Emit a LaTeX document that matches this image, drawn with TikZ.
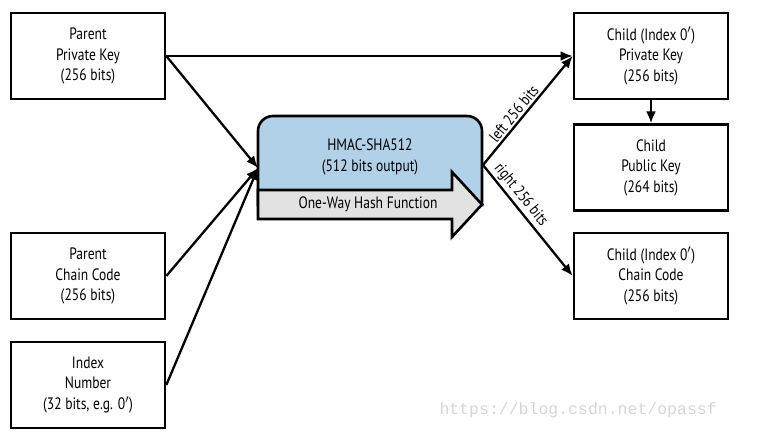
\documentclass[tikz,border=0pt]{standalone}
\usepackage{fontspec}
\setmainfont{PT Sans}[FakeStretch=0.82]
\newfontfamily\markfont{Liberation Mono}
\usepackage{tikz}
\usetikzlibrary{positioning, arrows.meta}
\usepackage{xcolor}
\definecolor{hmacblue}{RGB}{176,209,232}
\definecolor{hashgray}{RGB}{226,226,226}

\begin{document}
\begin{tikzpicture}[x=1pt, y=-1pt,
		keybox/.style={draw, line width=2.6pt, minimum width=154pt, minimum height=86pt, align=center, font=\fontsize{16.5}{20.5}\selectfont},
		link/.style={line width=2.3pt, -{Latex[length=12pt, width=10pt]}},
		bits/.style={font=\fontsize{16}{18}\selectfont, sloped, above, inner sep=2pt}]
				\useasboundingbox (0,0) rectangle (774,444);
				
				\node[keybox] (ppk) at (88,56) {Parent\\Private Key\\(256 bits)};
				\node[keybox] (pcc) at (88,276) {Parent\\Chain Code\\(256 bits)};
				\node[keybox] (idx) at (88,385) {Index\\Number\\(32 bits, e.g. 0$'$)};
				
				\node[keybox] (cpriv) at (651,56) {Child (Index 0$'$)\\Private Key\\(256 bits)};
				\node[keybox, below=23pt of cpriv] (cpub) {Child\\Public Key\\(264 bits)};
				\node[keybox] (ccc) at (651,276) {Child (Index 0$'$)\\Chain Code\\(256 bits)};
				
				% HMAC block with hash arrow
				\draw[fill=hmacblue, line width=2.6pt] (258,205) [rounded corners=15pt] -- (258,116) -- (482,116) -- (482,160) [sharp corners] -- (482,205) -- cycle;
				\draw[fill=hashgray, line width=2.6pt, line join=miter] (258,190) -- (452,190) -- (452,172) -- (482,204.5) -- (452,237) -- (452,219) -- (258,219) -- cycle;
				\node[align=center, font=\fontsize{16.5}{20.5}\selectfont] (hmac) at (370,157) {HMAC-SHA512\\(512 bits output)};
				\node[font=\fontsize{16.5}{20.5}\selectfont] (hash) at (368,204.5) {One-Way Hash Function};
				
				\coordinate (in) at (258,168);
				\coordinate (out) at (483,165);
				
				\draw[link] (ppk.east) -- (cpriv.west);
				\draw[link] (ppk.east) -- (in);
				\draw[link] (pcc.east) -- (in);
				\draw[link] (idx.east) -- (in);
				
				\draw[link] (out) -- node[bits, pos=0.42] {left 256 bits} (cpriv.west);
				\draw[link] (out) -- node[bits, pos=0.33] {right 256 bits} (ccc.west);
				\draw[link] (cpriv) -- (cpub);
				
				\node[font=\markfont\fontsize{16.5}{18}\selectfont, text=black!16, anchor=west] (mark) at (436,410) {https://blog.csdn.net/opassf};
			\end{tikzpicture}
\end{document}
